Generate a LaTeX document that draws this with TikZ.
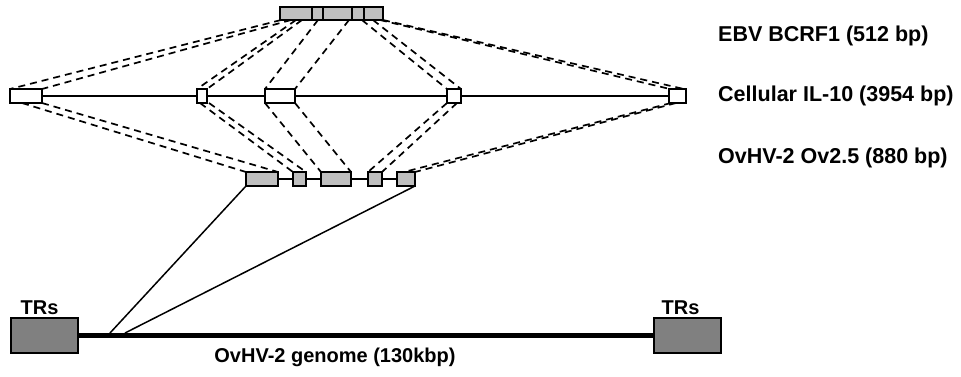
\documentclass[tikz,border=0pt]{standalone}
\usepackage{fontspec}
\setmainfont{Liberation Sans}
\begin{document}
\begin{tikzpicture}[x=1pt,y=-1pt,
  exon/.style={draw, line width=2pt, inner sep=0pt, outer sep=0pt, anchor=north west, minimum height=14pt},
  ilbox/.style={exon, fill=white},
  ovbox/.style={exon, fill=gray!50},
  trbox/.style={draw, line width=1.8pt, fill=gray, inner sep=0pt, outer sep=0pt, anchor=north west, minimum width=67pt, minimum height=35pt},
  dsh/.style={line width=1.7pt, dash pattern=on 7pt off 5pt},
  lbl/.style={font=\fontsize{21.5pt}{25pt}\selectfont\bfseries, anchor=west, inner sep=0pt},
  trlbl/.style={font=\fontsize{20pt}{24pt}\selectfont\bfseries, anchor=south, inner sep=0pt},
  solid line/.style={line width=1.5pt}]
\useasboundingbox (0,0) rectangle (961,376);
% IL-10 line and boxes
\node[ilbox, minimum width=32pt] (i1) at (10,89) {};
\node[ilbox, minimum width=10pt] (i2) at (197,89) {};
\node[ilbox, minimum width=30pt] (i3) at (265,89) {};
\node[ilbox, minimum width=14pt] (i4) at (447,89) {};
\node[ilbox, minimum width=17pt] (i5) at (669,89) {};
\draw[line width=2.2pt] (i1.east) -- (i2.west) (i2.east) -- (i3.west) (i3.east) -- (i4.west) (i4.east) -- (i5.west);
% BCRF1 box
\node[exon, fill=gray!50, minimum width=103pt, minimum height=13pt] (bc) at (280,7) {};
\foreach \d in {32,43,72,84}
  \draw[line width=2pt] ([xshift=\d pt]bc.north west) -- ([xshift=\d pt]bc.south west);
% Ov2.5 boxes
\node[ovbox, minimum width=32pt] (o1) at (246,172) {};
\node[ovbox, minimum width=13pt] (o2) at (293,172) {};
\node[ovbox, minimum width=30pt] (o3) at (321,172) {};
\node[ovbox, minimum width=14pt] (o4) at (368,172) {};
\node[ovbox, minimum width=18pt] (o5) at (397,172) {};
\draw[line width=2.2pt] (o1.east) -- (o2.west) (o2.east) -- (o3.west) (o3.east) -- (o4.west) (o4.east) -- (o5.west);
% dashed: BCRF1 -> IL-10
\draw[dsh] ([xshift=1pt]bc.south west) -- (i1.north west);
\draw[dsh] ([xshift=11pt]bc.south west) -- (i1.north east);
\draw[dsh] ([xshift=16pt]bc.south west) -- (i2.north west);
\draw[dsh] ([xshift=22pt]bc.south west) -- (i2.north east);
\draw[dsh] ([xshift=38pt]bc.south west) -- (i3.north west);
\draw[dsh] ([xshift=69pt]bc.south west) -- (i3.north east);
\draw[dsh] ([xshift=82pt]bc.south west) -- (i4.north west);
\draw[dsh] ([xshift=93pt]bc.south west) -- (i4.north east);
\draw[dsh] ([xshift=100pt]bc.south west) -- ([xshift=1pt]i5.north west);
\draw[dsh] ([xshift=103pt]bc.south west) -- ([xshift=15pt]i5.north west);
% dashed: IL-10 -> Ov2.5
\draw[dsh] ([xshift=12pt]i1.south west) -- (o1.north west);
\draw[dsh] (i1.south east) -- (o1.north east);
\draw[dsh] ([xshift=3pt]i2.south west) -- (o2.north west);
\draw[dsh] ([xshift=12pt]i2.south west) -- (o2.north east);
\draw[dsh] (i3.south west) -- (o3.north west);
\draw[dsh] (i3.south east) -- (o3.north east);
\draw[dsh] (i4.south west) -- (o4.north west);
\draw[dsh] ([xshift=10pt]i4.south west) -- (o4.north east);
\draw[dsh] ([xshift=2pt]i5.south west) -- ([xshift=7pt]o5.north west);
\draw[dsh] ([xshift=7pt]i5.south west) -- (o5.north east);
% genome
\node[trbox] (trL) at (11,318) {};
\node[trbox] (trR) at (654,318) {};
\draw[line width=5pt] (trL.east) -- (trR.west);
\coordinate (g1) at (110,333);
\coordinate (g2) at (125,333);
\draw[solid line] (o1.south west) -- (g1);
\draw[solid line] (o5.south east) -- (g2);
% labels
\node[trlbl] (tl) at ([xshift=-5pt,yshift=3pt]trL.north) {TRs};
\node[trlbl] (tr) at ([xshift=-7pt,yshift=3pt]trR.north) {TRs};
\node[font=\fontsize{20pt}{24pt}\selectfont\bfseries, inner sep=0pt] (gl) at (335,357) {OvHV-2 genome (130kbp)};
\node[lbl] (l1) at (718,36) {EBV BCRF1 (512 bp)};
\node[lbl] (l2) at (718,96) {Cellular IL-10 (3954 bp)};
\node[lbl] (l3) at (718,158) {OvHV-2 Ov2.5 (880 bp)};
\end{tikzpicture}
\end{document}
